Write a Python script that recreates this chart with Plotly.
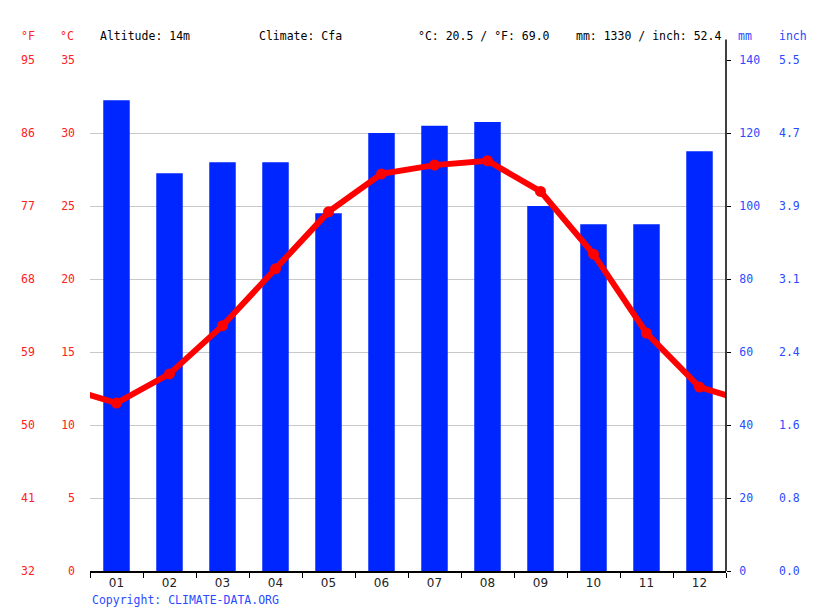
import plotly.graph_objects as go

# monthly climate values
months = ["01", "02", "03", "04", "05", "06", "07", "08", "09", "10", "11", "12"]
precip_mm = [129, 109, 112, 112, 98, 120, 122, 123, 100, 95, 95, 115]
temp_c = [11.5, 13.5, 16.8, 20.7, 24.6, 27.2, 27.8, 28.1, 26.0, 21.7, 16.3, 12.6]

# axis labels
c_ticks = [0, 5, 10, 15, 20, 25, 30, 35]
f_labels = ["32", "41", "50", "59", "68", "77", "86", "95"]
mm_ticks = [0, 20, 40, 60, 80, 100, 120, 140]
inch_labels = ["0.0", "0.8", "1.6", "2.4", "3.1", "3.9", "4.7", "5.5"]

header = ["Altitude: 14m", "Climate: Cfa", "°C: 20.5 / °F: 69.0", "mm: 1330 / inch: 52.4"]

RED = "#ff2020"
BLUE = "#2a4bff"
MONO = "DejaVu Sans Mono"
FS = 11.5

xs = list(range(1, 13))

fig = go.Figure()
# bars on the main (right, mm) axis so the temperature line sits on top
fig.add_trace(go.Bar(x=xs, y=precip_mm, width=0.5, marker_color="#0026ff",
                     marker_line_width=0, yaxis="y"))
# line wraps around the year at both edges (Dec before Jan, Jan after Dec)
fig.add_trace(go.Scatter(x=[0] + xs + [13], y=[temp_c[-1]] + temp_c + [temp_c[0]],
                         mode="lines", line=dict(color="#ff0000", width=6), yaxis="y2"))
fig.add_trace(go.Scatter(x=xs, y=temp_c, mode="markers",
                         marker=dict(color="#ff0000", size=11), yaxis="y2"))

# page body has an 8px margin, so the figure is 8px smaller than the window
fig.update_layout(
    width=807, height=603,
    margin=dict(l=82, r=89, t=52, b=40),
    plot_bgcolor="white", paper_bgcolor="white",
    showlegend=False,
    font=dict(family=MONO, size=FS),
    xaxis=dict(range=[0.5, 12.5], tickvals=xs, ticktext=months, ticks="",
               showgrid=False, zeroline=False, showline=True, linecolor="black", linewidth=1.5,
               tickfont=dict(family="DejaVu Sans", size=12, color="#222"),
               minor=dict(tickvals=[i + 0.5 for i in range(13)], ticks="outside",
                          ticklen=5, tickcolor="black", showgrid=False)),
    yaxis=dict(range=[0, 140], tickvals=mm_ticks, side="right",
               showgrid=True, gridcolor="#c8c8c8", zeroline=False, showline=False,
               ticks="outside", ticklen=4, tickcolor="black",
               tickfont=dict(color=BLUE, size=FS), ticklabelstandoff=6),
    yaxis2=dict(range=[0, 35], tickvals=c_ticks, overlaying="y", side="left", ticks="",
                showgrid=False, zeroline=False,
                tickfont=dict(color=RED, size=FS), ticklabelstandoff=14),
)

# right axis line, reaching above the plot
fig.add_shape(type="line", xref="paper", yref="paper", x0=1, x1=1, y0=0, y1=1.04,
              line=dict(color="black", width=1.5))

# °F and inch label columns
for c, f in zip(c_ticks, f_labels):
    fig.add_annotation(x=0, xref="paper", xshift=-53, y=c, yref="y2", text=f,
                       showarrow=False, xanchor="right", font=dict(color=RED, size=FS))
for m, i in zip(mm_ticks, inch_labels):
    fig.add_annotation(x=1, xref="paper", xshift=51, y=m, yref="y", text=i,
                       showarrow=False, xanchor="left", font=dict(color=BLUE, size=FS))

# header row
def head(txt, x, shift, anchor, color):
    fig.add_annotation(x=x, xref="paper", xshift=shift, y=1, yref="paper", yshift=24,
                       yanchor="middle", text=txt, showarrow=False, xanchor=anchor,
                       font=dict(color=color))

head("°F", 0, -53, "right", RED)
head("°C", 0, -14, "right", RED)
for txt, px in zip(header, [8, 167, 326, 484]):
    head(txt, 0, px, "left", "black")
head("mm", 1, 10, "left", BLUE)
head("inch", 1, 51, "left", BLUE)

fig.add_annotation(x=0, xref="paper", y=0, yref="paper", yshift=-29, yanchor="middle",
                   text="Copyright: CLIMATE-DATA.ORG",
                   showarrow=False, xanchor="left", font=dict(color=BLUE))

fig.write_html("out.html")
